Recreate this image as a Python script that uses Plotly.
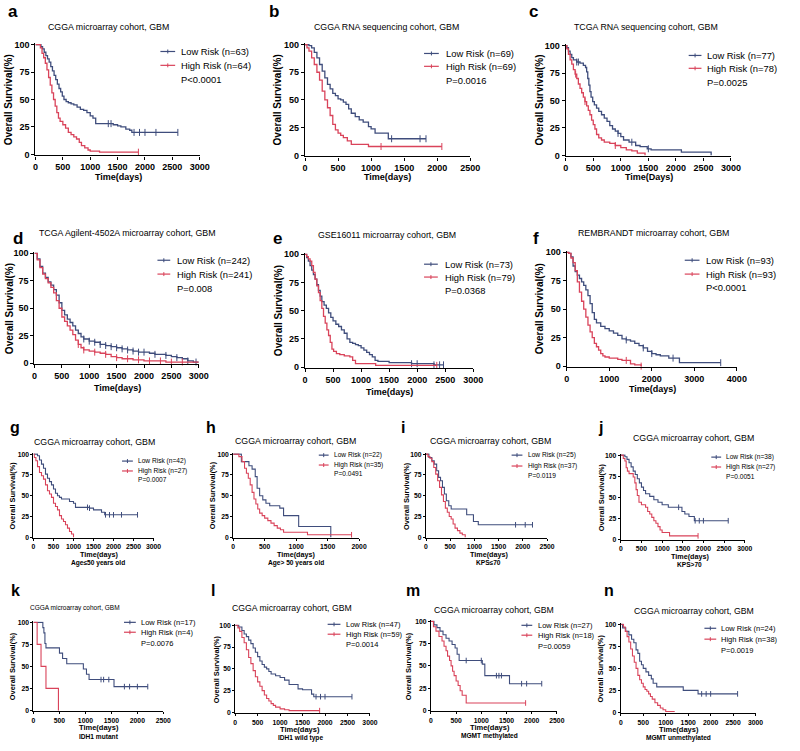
import numpy as np
import plotly.graph_objects as go

W, H = 800, 751
LOW = "#3f4d7c"
HIGH = "#d9435a"
FONT = "Liberation Sans, Arial, sans-serif"

# ---------------- data (time in days, survival in %) ----------------
a_low_t = [0,100,130,160,190,220,250,280,310,340,370,400,430,460,490,520,560,600,650,700,760,820,880,940,1000,1050,1100,1380,1420,1500,1560,1650,1720,1760,2600]
a_low_s = [100,98,96,93,90,87,84,80,76,72,68,64,60,57,53,50,48,47,46,45,43,41,40,38,35,33,28,28,27,26,25,23,22,20,20]
a_low_c = [1330,1380,1800,1900,2000,2200,2600]
a_high_t = [0,90,120,150,180,210,240,270,300,330,360,390,420,450,500,550,600,650,700,750,800,840,900,960,1000,1170,1880]
a_high_s = [100,97,92,88,83,77,70,63,56,50,44,38,33,30,27,24,20,18,16,14,11,8,6,4,3,2,2]
a_high_c = [1880]

b_low_t = [0,60,100,140,180,220,260,300,340,380,420,460,500,540,580,620,660,700,760,820,880,960,1000,1060,1100,1260,1830]
b_low_s = [100,99,97,93,88,82,76,70,64,60,56,54,51,50,48,46,42,38,35,32,30,26,24,20,20,15,15]
b_low_c = [1310,1740,1830]
b_high_t = [0,30,60,100,140,180,220,260,300,340,380,420,460,500,540,580,640,700,960,2070]
b_high_s = [100,97,94,88,82,75,68,58,50,43,36,28,23,20,18,16,13,10,8,8]
b_high_c = [1150,2070]

c_low_t = [0,20,50,80,110,140,200,260,320,360,380,400,420,440,460,490,520,560,600,650,700,750,800,850,900,950,1000,1050,1150,1270,1350,1480,1550,2100,2640]
c_low_s = [100,98,95,92,89,87,85,84,82,80,76,70,64,58,53,49,46,43,40,37,34,31,27,24,22,20,17,14,12,9,8,6,5,3,0]
c_low_c = [200,230,950,1200,1500]
c_high_t = [0,20,50,80,110,140,170,200,230,260,290,320,350,380,410,440,470,500,530,560,600,650,700,800,900,1000,1100,1200,1300,1440]
c_high_s = [100,97,92,87,83,78,74,70,65,61,57,53,49,45,41,37,32,28,24,19,16,14,12,11,9,7,5,4,2,0]
c_high_c = [180,350,900]

d_low_t = [0,50,100,150,200,250,300,350,400,450,500,550,600,650,700,750,800,850,900,1000,1100,1200,1300,1400,1500,1600,1700,1800,1900,2000,2100,2200,2300,2400,2500,2600,2700,2800,2900,3000]
d_low_s = [100,95,88,82,78,74,71,67,62,55,48,44,40,37,34,30,27,24,22,20,19,17,16,15,14,13,12,11,10,10,9,8,8,7,6,5,4,2,1,1]
d_low_c = [900,1000,1100,1200,1300,1400,1500,1600,1700,1800,1900,2000,2200,2400,2600,2800,2950]
d_high_t = [0,50,100,150,200,250,300,350,400,450,500,550,600,650,700,750,800,850,900,1000,1100,1200,1300,1400,1500,1600,1700,1800,1900,2000,2100,2200,2300,2400,2500,2600,2700,2800,2900,3000]
d_high_s = [100,94,87,81,77,73,69,64,57,50,42,38,34,30,26,21,17,14,12,11,10,9,8,6,5,4,4,3,3,2,2,2,2,1,1,1,1,1,1,1]
d_high_c = [800,900,1100,1300,1500,1700,1900,2100,2300,2500,2700]

e_low_t = [0,30,60,90,120,150,180,210,240,270,300,340,380,420,460,500,550,600,650,700,750,800,850,900,950,1000,1050,1100,1150,1200,1250,1300,1500,1900,2300,2470]
e_low_s = [100,97,94,90,86,82,78,73,68,63,58,55,52,48,44,41,38,36,33,30,25,22,21,20,19,17,15,13,11,9,6,5,4,3,2,2]
e_low_c = [1900,2000,2300,2400,2470]
e_high_t = [0,30,60,90,120,150,180,210,240,270,300,330,360,390,420,450,480,510,560,620,700,800,850,900,1000,1200,1260,2350]
e_high_s = [100,98,96,94,90,84,78,72,66,59,52,45,39,33,28,22,16,14,12,11,10,9,6,3,3,3,1.5,1.5]
e_high_c = [2350]

f_low_t = [0,50,100,150,200,250,300,350,400,450,500,550,600,650,700,800,900,1000,1100,1200,1300,1400,1500,1600,1700,1800,1900,2000,2100,2200,2400,2600,2650,3620]
f_low_s = [100,99,96,88,83,80,77,74,71,67,62,55,47,41,38,35,33,31,29,27,24,23,22,20,18,16,13,11,10,9,7,7,3,3]
f_low_c = [1400,1800,2000,2500,3620]
f_high_t = [0,50,100,150,200,250,300,350,400,450,500,550,600,650,700,750,800,850,900,1000,1100,1200,1300,1400,1500,1600,1750]
f_high_s = [100,99,95,91,84,74,65,57,50,43,36,30,25,20,17,14,11,9,8,7,7,6,5,5,2,1,0]
f_high_c = [1400,1750]

g_low_t = [0,100,150,200,250,300,350,400,450,500,550,600,650,700,900,1000,1050,1400,1500,1700,1780,2600]
g_low_s = [100,98,93,88,83,76,71,67,63,58,53,50,48,46,43,41,36,35,33,30,27,27]
g_low_c = [1350,1400,1800,1900,2000,2200,2600]
g_high_t = [0,20,60,100,150,200,250,300,350,400,450,500,550,600,650,700,750,800,850,900,950,1000]
g_high_s = [100,96,92,85,78,74,70,63,56,52,48,41,37,33,26,22,19,15,11,7,4,0]
g_high_c = []

h_low_t = [0,130,250,300,350,380,420,470,520,580,740,800,1040,1550]
h_low_s = [100,91,86,82,73,59,50,45,41,38,35,26,13,0]
h_low_c = []
h_high_t = [0,90,140,180,210,240,270,300,330,360,390,420,460,500,550,600,650,700,750,800,900,1180,1880]
h_high_s = [100,97,91,83,77,71,63,54,46,40,34,29,26,23,20,17,14,11,9,6,6,3,3]
h_high_c = [1880]

i_low_t = [0,60,120,170,220,260,300,340,380,420,470,520,840,980,1080,2200]
i_low_s = [100,96,92,88,80,72,68,60,52,44,38,34,27,19,15,15]
i_low_c = [1850,2050,2200]
i_high_t = [0,40,80,120,160,200,240,280,320,360,400,440,480,520,560,600,650,700,750,810]
i_high_s = [100,97,95,91,84,76,68,60,51,43,35,30,25,22,16,11,8,5,3,0]
i_high_c = []

j_low_t = [0,100,150,200,250,300,350,400,450,500,550,600,700,800,900,1000,1150,1400,1480,1550,1650,1780,2600]
j_low_s = [100,98,95,91,86,81,77,72,67,62,58,54,51,47,44,41,38,38,33,30,27,22,22]
j_low_c = [1400,1800,1900,2000,2600]
j_high_t = [0,60,100,130,160,200,300,340,370,400,440,500,600,650,700,750,800,850,900,950,1000,1180,1870]
j_high_s = [100,96,93,85,81,78,74,67,59,52,44,41,38,33,30,26,22,19,15,11,8,4,4]
j_high_c = [1870]

k_low_t = [0,180,200,220,240,500,560,640,960,1020,1070,1550,2200]
k_low_s = [100,94,88,76,71,65,59,53,47,41,35,27,27]
k_low_c = [1300,1350,1450,1750,1850,2000,2200]
k_high_t = [0,70,145,240,480]
k_high_s = [100,75,50,25,0]
k_high_c = []

l_low_t = [0,80,150,200,250,300,350,400,450,500,550,600,650,700,750,800,900,1000,1100,1200,1400,1500,1700,1750,2600]
l_low_s = [100,98,94,90,87,83,79,74,69,64,59,55,52,50,47,44,42,40,37,32,27,26,21,18,18]
l_low_c = [1800,1900,2000,2600]
l_high_t = [0,60,100,150,200,250,300,350,400,450,500,550,600,650,700,750,800,850,900,1000,1100,1200,1880]
l_high_s = [100,97,93,86,80,72,63,56,48,41,35,30,25,20,16,13,10,8,6,4,3,2,2]
l_high_c = [1880]

m_low_t = [0,60,120,180,240,300,360,420,480,520,560,1020,1070,1560,2200]
m_low_s = [100,96,93,89,85,81,78,74,70,63,56,52,39,30,30]
m_low_c = [700,1000,1300,1350,1400,1800,1900,2200]
m_high_t = [0,50,100,160,220,260,300,330,370,400,430,460,500,540,580,620,700,1880]
m_high_s = [100,94,89,83,78,72,67,61,56,50,44,39,33,28,22,17,8.3,8.3]
m_high_c = [1880]

n_low_t = [0,40,110,180,240,290,340,380,420,460,500,560,620,680,720,800,1390,1720,2600]
n_low_s = [100,96,92,88,83,79,71,67,58,54,50,46,42,38,33,29,25,21,21]
n_low_c = [1800,1900,2000,2600]
n_high_t = [0,60,100,140,180,220,260,300,340,380,420,460,500,540,580,620,660,700,760,820,880,940,1000,1200]
n_high_s = [100,97,92,86,80,72,64,57,50,42,37,33,29,26,24,21,18,15,11,8,5,3,1,1]
n_high_c = []

# ---------------- panel layout specs ----------------
# dom = (x_left, x_right, y_at_100, y_at_0) in px
panels = [
    dict(L="a", lt=(3, 8), low=(a_low_t, a_low_s, a_low_c), high=(a_high_t, a_high_s, a_high_c), n=(63, 64), p="P<0.0001",
         title="CGGA microarray cohort, GBM", tpos=(107, 23), xmax=3000, dt=500, dom=(33, 200, 41, 152),
         xl="Time(days)", xlp=(117, 175), sub=None, ylx=6, leg=(160, 175, 179, 48, 62, 76), grp="top"),
    dict(L="b", lt=(268, 8), low=(b_low_t, b_low_s, b_low_c), high=(b_high_t, b_high_s, b_high_c), n=(69, 69), p="P=0.0016",
         title="CGGA RNA sequencing cohort, GBM", tpos=(390, 23), xmax=2500, dt=500, dom=(307, 475, 41, 153),
         xl="Time(days)", xlp=(391, 175), sub=None, ylx=280, leg=(428, 443, 448, 50, 63, 77), grp="top"),
    dict(L="c", lt=(533, 8), low=(c_low_t, c_low_s, c_low_c), high=(c_high_t, c_high_s, c_high_c), n=(77, 78), p="P=0.0025",
         title="TCGA RNA sequencing cohort, GBM", tpos=(654, 23), xmax=3000, dt=500, dom=(572, 740, 42, 153),
         xl="Time(Days)", xlp=(657, 175), sub=None, ylx=545, leg=(697, 710, 714, 52, 65, 79), grp="top"),
    dict(L="d", lt=(8, 237), low=(d_low_t, d_low_s, d_low_c), high=(d_high_t, d_high_s, d_high_c), n=(242, 241), p="P=0.008",
         title="TCGA Agilent-4502A microarray cohort, GBM", tpos=(127, 231), xmax=3000, dt=500, dom=(32, 199, 252, 363),
         xl="Time(days)", xlp=(116, 388), sub=None, ylx=6, leg=(157, 170, 175, 259, 273, 288), grp="top"),
    dict(L="e", lt=(272, 237), low=(e_low_t, e_low_s, e_low_c), high=(e_high_t, e_high_s, e_high_c), n=(73, 79), p="P=0.0368",
         title="GSE16011 microarray cohort, GBM", tpos=(390, 233), xmax=3000, dt=500, dom=(307, 478, 253, 367),
         xl="Time(days)", xlp=(393, 392), sub=None, ylx=280, leg=(428, 442, 447, 263, 276, 290), grp="top"),
    dict(L="f", lt=(537, 237), low=(f_low_t, f_low_s, f_low_c), high=(f_high_t, f_high_s, f_high_c), n=(93, 93), p="P<0.0001",
         title="REMBRANDT microarray cohort, GBM", tpos=(661, 231), xmax=4000, dt=1000, dom=(573, 746, 251, 366),
         xl="Time(days)", xlp=(660, 389), sub=None, ylx=545, leg=(693, 708, 713, 259, 273, 287), grp="top"),
    dict(L="g", lt=(5, 428), low=(g_low_t, g_low_s, g_low_c), high=(g_high_t, g_high_s, g_high_c), n=(42, 27), p="P=0.0007",
         title="CGGA microarray cohort, GBM", tpos=(93, 443), xmax=3000, dt=500, dom=(31, 153, 455, 539),
         xl="Time(days)", xlp=(98, 556), sub="Age≤50 years old", sbp=(97, 565), ylx=10, leg=(121, 132, 135, 462, 472, 481), grp="mid"),
    dict(L="h", lt=(204, 428), low=(h_low_t, h_low_s, h_low_c), high=(h_high_t, h_high_s, h_high_c), n=(22, 35), p="P=0.0491",
         title="CGGA microarray cohort, GBM", tpos=(297, 442), xmax=2000, dt=500, dom=(234, 362, 455, 539),
         xl="Time(days)", xlp=(298, 556), sub="Age> 50 years old", sbp=(298, 565), ylx=213, leg=(321, 331, 334, 456, 466, 475), grp="mid"),
    dict(L="i", lt=(403, 428), low=(i_low_t, i_low_s, i_low_c), high=(i_high_t, i_high_s, i_high_c), n=(25, 37), p="P=0.0119",
         title="CGGA microarray cohort, GBM", tpos=(496, 442), xmax=2500, dt=500, dom=(430, 553, 455, 539),
         xl="Time(days)", xlp=(494, 556), sub="KPS≤70", sbp=(494, 565), ylx=410, leg=(517, 528, 532, 456, 467, 477), grp="mid"),
    dict(L="j", lt=(603, 428), low=(j_low_t, j_low_s, j_low_c), high=(j_high_t, j_high_s, j_high_c), n=(38, 27), p="P=0.0051",
         title="CGGA microarray cohort, GBM", tpos=(702, 439), xmax=3000, dt=500, dom=(628, 754, 456, 541),
         xl="Time(days)", xlp=(698, 558), sub="KPS>70", sbp=(698, 567), ylx=608, leg=(720, 730, 733, 458, 468, 478), grp="mid"),
    dict(L="k", lt=(6, 593), low=(k_low_t, k_low_s, k_low_c), high=(k_high_t, k_high_s, k_high_c), n=(17, 4), p="P=0.0076",
         title="CGGA microarray cohort, GBM", tpos=(73, 610), xmax=2500, dt=500, dom=(31, 163, 625, 714),
         xl="Time(days)", xlp=(98, 731), sub="IDH1 mutant", sbp=(98, 740), ylx=10, leg=(123, 135, 138, 625, 635, 646), grp="bot", ts=6.5),
    dict(L="l", lt=(209, 593), low=(l_low_t, l_low_s, l_low_c), high=(l_high_t, l_high_s, l_high_c), n=(47, 59), p="P=0.0014",
         title="CGGA microarray cohort, GBM", tpos=(294, 611), xmax=3000, dt=500, dom=(236, 373, 628, 716),
         xl="Time(days)", xlp=(302, 733), sub="IDH1 wild type", sbp=(302, 742), ylx=217, leg=(330, 343, 347, 627, 637, 647), grp="bot"),
    dict(L="m", lt=(408, 593), low=(m_low_t, m_low_s, m_low_c), high=(m_high_t, m_high_s, m_high_c), n=(27, 18), p="P=0.0059",
         title="CGGA microarray cohort, GBM", tpos=(499, 613), xmax=2500, dt=500, dom=(435, 563, 624, 714),
         xl="Time(days)", xlp=(495, 731), sub="MGMT methylated", sbp=(495, 740), ylx=413, leg=(527, 538, 542, 628, 638, 649), grp="bot"),
    dict(L="n", lt=(609, 593), low=(n_low_t, n_low_s, n_low_c), high=(n_high_t, n_high_s, n_high_c), n=(24, 38), p="P=0.0019",
         title="CGGA microarray cohort, GBM", tpos=(702, 614), xmax=3000, dt=500, dom=(628, 765, 627, 716),
         xl="Time(days)", xlp=(687, 733), sub="MGMT unmethylated", sbp=(687, 742), ylx=607, leg=(713, 725, 728, 631, 642, 653), grp="bot"),
]

# font sizes per panel group
SIZES = {
    "top": dict(tick=9.0, title=8.8, xl=9.0, yl=10.0, leg=9.4, letter=17, lw=1.3, cz=5, tl=3),
    "mid": dict(tick=6.8, title=8.8, xl=7.2, yl=7.4, leg=6.6, letter=16, lw=1.1, cz=4, tl=2),
    "bot": dict(tick=6.8, title=8.7, xl=7.5, yl=7.4, leg=7.5, letter=16, lw=1.1, cz=4, tl=2),
}


def px(x):
    return x / W


def py(y):
    return 1 - y / H


def step_value(t, s, c):
    t = np.asarray(t, dtype=float)
    s = np.asarray(s, dtype=float)
    idx = np.searchsorted(t, np.asarray(c, dtype=float), side="right") - 1
    idx = np.clip(idx, 0, len(s) - 1)
    return s[idx]


fig = go.Figure()
annotations = []
shapes = []
layout_axes = {}
YMIN, YMAX = -1.0, 101.0

for k, P in enumerate(panels, start=1):
    xa = "x" if k == 1 else f"x{k}"
    ya = "y" if k == 1 else f"y{k}"
    S = SIZES[P["grp"]]
    for (t, s, c), col in ((P["low"], LOW), (P["high"], HIGH)):
        fig.add_trace(go.Scatter(x=t, y=s, mode="lines", line=dict(color=col, width=S["lw"], shape="hv"),
                                 xaxis=xa, yaxis=ya, showlegend=False, hoverinfo="skip"))
        if len(c):
            fig.add_trace(go.Scatter(x=c, y=step_value(t, s, c), mode="markers",
                                     marker=dict(symbol="line-ns", size=S["cz"],
                                                 line=dict(color=col, width=1)),
                                     xaxis=xa, yaxis=ya, showlegend=False, hoverinfo="skip", cliponaxis=False))
    x0, x1, y100, y0 = P["dom"]
    unit = (y0 - y100) / 100.0
    top = y100 - (YMAX - 100) * unit
    bot = y0 + (0 - YMIN) * unit
    axname_x = "xaxis" if k == 1 else f"xaxis{k}"
    axname_y = "yaxis" if k == 1 else f"yaxis{k}"
    common = dict(ticks="outside", ticklen=S["tl"], tickwidth=1, tickcolor="black", showline=True,
                  linecolor="black", linewidth=1.2, showgrid=False, zeroline=False,
                  tickfont=dict(family=FONT, size=S["tick"], color="black", weight="bold"))
    layout_axes[axname_x] = dict(domain=[px(x0), px(x1)], anchor=ya, range=[0, P["xmax"]],
                                 tickmode="linear", tick0=0, dtick=P["dt"], **common)
    layout_axes[axname_y] = dict(domain=[py(bot), py(top)], anchor=xa, range=[YMIN, YMAX],
                                 tickvals=[0, 25, 50, 75, 100], **common)
    # panel letter
    annotations.append(dict(x=px(P["lt"][0]), y=py(P["lt"][1]), xref="paper", yref="paper", text=f"<b>{P['L']}</b>",
                            showarrow=False, xanchor="left", yanchor="middle",
                            font=dict(family=FONT, size=S["letter"], color="black")))
    # title
    annotations.append(dict(x=px(P["tpos"][0]), y=py(P["tpos"][1]), xref="paper", yref="paper", text=P["title"],
                            showarrow=False, xanchor="center", yanchor="middle",
                            font=dict(family=FONT, size=P.get("ts", S["title"]), color="black")))
    # x label
    annotations.append(dict(x=px(P["xlp"][0]), y=py(P["xlp"][1]), xref="paper", yref="paper", text=f"<b>{P['xl']}</b>",
                            showarrow=False, xanchor="center", yanchor="middle",
                            font=dict(family=FONT, size=S["xl"], color="black")))
    if P["sub"]:
        annotations.append(dict(x=px(P["sbp"][0]), y=py(P["sbp"][1]), xref="paper", yref="paper",
                                text=f"<b>{P['sub']}</b>", showarrow=False, xanchor="center", yanchor="middle",
                                font=dict(family=FONT, size=6.6, color="black")))
    # y label
    annotations.append(dict(x=px(P["ylx"]), y=py((y100 + y0) / 2), xref="paper", yref="paper",
                            text="<b>Overall Survival(%)</b>", textangle=-90, showarrow=False,
                            xanchor="center", yanchor="middle",
                            font=dict(family=FONT, size=S["yl"], color="black")))
    # legend
    lx0, lx1, tx, yl, yh, yp = P["leg"]
    for yy, col, lab in ((yl, LOW, f"Low Risk (n={P['n'][0]})"), (yh, HIGH, f"High Risk (n={P['n'][1]})")):
        shapes.append(dict(type="line", xref="paper", yref="paper", x0=px(lx0), x1=px(lx1), y0=py(yy), y1=py(yy),
                           line=dict(color=col, width=1.2)))
        xm = (lx0 + lx1) / 2
        shapes.append(dict(type="line", xref="paper", yref="paper", x0=px(xm), x1=px(xm), y0=py(yy - 2), y1=py(yy + 2),
                           line=dict(color=col, width=1)))
        annotations.append(dict(x=px(tx), y=py(yy), xref="paper", yref="paper", text=lab, showarrow=False,
                                xanchor="left", yanchor="middle", font=dict(family=FONT, size=S["leg"], color="black")))
    annotations.append(dict(x=px(tx), y=py(yp), xref="paper", yref="paper", text=P["p"], showarrow=False,
                            xanchor="left", yanchor="middle", font=dict(family=FONT, size=S["leg"], color="black")))

fig.update_layout(width=W, height=H, margin=dict(l=0, r=0, t=0, b=0),
                  paper_bgcolor="white", plot_bgcolor="white",
                  annotations=annotations, shapes=shapes, showlegend=False, **layout_axes)
fig.write_html("out.html", config={"displayModeBar": False},
               post_script="document.body.style.margin='0px';document.body.style.overflow='hidden';")
